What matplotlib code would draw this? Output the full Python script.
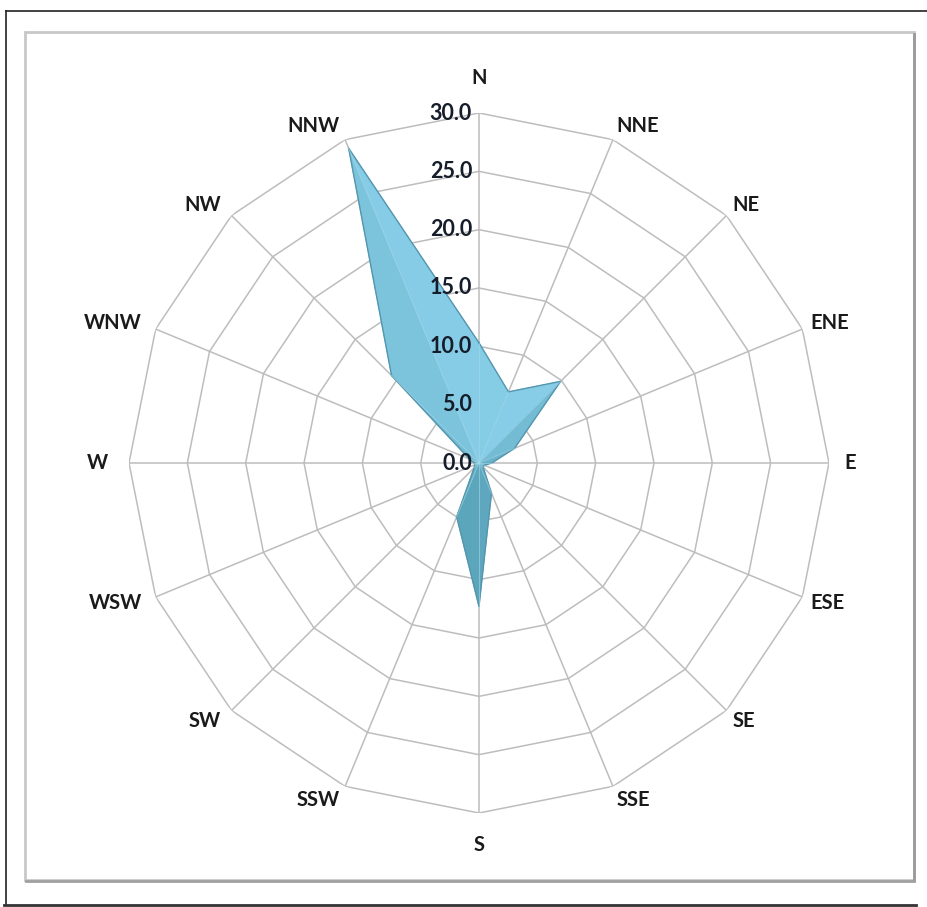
import numpy as np
import matplotlib.pyplot as plt
import matplotlib.colors as mcolors
from matplotlib.patches import Rectangle
from matplotlib.lines import Line2D

# wind directions and frequencies
directions = ["N", "NNE", "NE", "ENE", "E", "ESE", "SE", "SSE",
              "S", "SSW", "SW", "WSW", "W", "WNW", "NW", "NNW"]
values = [10.3, 6.6, 9.9, 3.3, 1.1, 0.5, 0.5, 2.8,
          12.3, 5.0, 0.6, 0.4, 0.4, 0.9, 10.6, 29.2]
rings = [0, 5, 10, 15, 20, 25, 30]
ring_labels = ["0.0", "5.0", "10.0", "15.0", "20.0", "25.0", "30.0"]

plt.rcParams['font.family'] = ['Lato', 'DejaVu Sans']

W, H = 928, 907
fig = plt.figure(figsize=(W / 100, H / 100), dpi=100)
fig.patch.set_facecolor("white")

# frames (outer black line, inner grey box with shadow)
fig.add_artist(Line2D([6 / W, 1.0], [1 - 11 / H, 1 - 11 / H], color="#222222", lw=1.2))
fig.add_artist(Line2D([6 / W, 6 / W], [1 - 11 / H, 1 - 905 / H], color="#222222", lw=1.2))
fig.add_artist(Line2D([4 / W, 916 / W], [1 - 905 / H, 1 - 905 / H], color="#333333", lw=2.0))
fig.add_artist(Rectangle((25 / W, 1 - 880 / H), 889 / W, 848 / H, fill=False,
                         edgecolor="#c8c8c8", lw=2.0))
fig.add_artist(Line2D([914 / W, 914 / W], [1 - 34 / H, 1 - 880 / H], color="#9a9a9a", lw=2.0))
fig.add_artist(Line2D([26 / W, 914 / W], [1 - 881 / H, 1 - 881 / H], color="#a0a0a0", lw=2.0))

# polar axes: centre (479, 463) px, radius 350 px
cx, cy, R = 479, 463, 350
ax = fig.add_axes([(cx - R) / W, (H - cy - R) / H, 2 * R / W, 2 * R / H], projection="polar")
ax.set_theta_zero_location("N")
ax.set_theta_direction(-1)
ax.set_ylim(0, 30)
ax.grid(False)
ax.spines["polar"].set_visible(False)
ax.set_yticks([])
ax.set_xticks([])
ax.patch.set_alpha(0)

n = len(directions)
theta = np.arange(n) * 2 * np.pi / n
theta_c = np.append(theta, theta[0])

# polygonal grid
for r in rings[1:]:
    ax.plot(theta_c, [r] * (n + 1), color="#bdbdbd", lw=1.1, zorder=1)
for t in theta:
    ax.plot([t, t], [0, rings[-1]], color="#bdbdbd", lw=1.1, zorder=1)

# filled radar with shaded facets (fake bevel look)
vals = np.array(values)
xs = vals * np.sin(theta)
ys = vals * np.cos(theta)
dark = np.array(mcolors.to_rgb("#559fb5"))
light = np.array(mcolors.to_rgb("#8ad0ea"))
for i in range(n):
    j = (i + 1) % n
    ex, ey = xs[j] - xs[i], ys[j] - ys[i]
    nx, ny = -ey, ex  # outward normal (clockwise order)
    b_norm = 0.5 + 0.5 * np.sin(np.arctan2(ny, nx))
    mid = (theta[i] + theta[j] + (2 * np.pi if j == 0 else 0)) / 2
    b_vert = 0.5 + 0.5 * np.cos(mid)
    b = 0.65 * b_vert + 0.35 * b_norm
    col = dark + (light - dark) * b
    ax.fill([theta[i], theta[j], 0], [vals[i], vals[j], 0], color=col, lw=0.6,
            edgecolor=col, zorder=2)
ax.plot(theta_c, np.append(vals, vals[0]), color="#5496ae", lw=1.0, zorder=3)
for t, v in zip(theta, vals):
    ax.plot([t, t], [0, v], color="#a4d8ea", lw=0.7, alpha=0.6, zorder=3)

# direction labels, anchored at the outer ring vertex
for t, lab in zip(theta, directions):
    s, c = np.sin(t), np.cos(t)
    if abs(s) < 1e-6:
        ha, dx, dy = "center", 0, (35 if c > 0 else -32)
    else:
        ha = "left" if s > 0 else "right"
        gx = 9 if s > 0 else 15
        if abs(c) < 1e-6:
            gx += 6
        dx, dy = s * gx, c * 15
    ax.annotate(lab, xy=(t, 30), xytext=(dx, dy), textcoords="offset pixels",
                ha=ha, va="center", fontsize=14.5, fontweight="bold",
                color="#1a1a1a")

# radial labels on the north spoke
for r, lab in zip(rings, ring_labels):
    ax.annotate(lab, xy=(0, r), xytext=(-5, 0), textcoords="offset points",
                ha="right", va="center", fontsize=15.5, fontweight="bold",
                color="#151c2a", zorder=4)

fig.savefig("out.png", dpi=100, facecolor="white")
